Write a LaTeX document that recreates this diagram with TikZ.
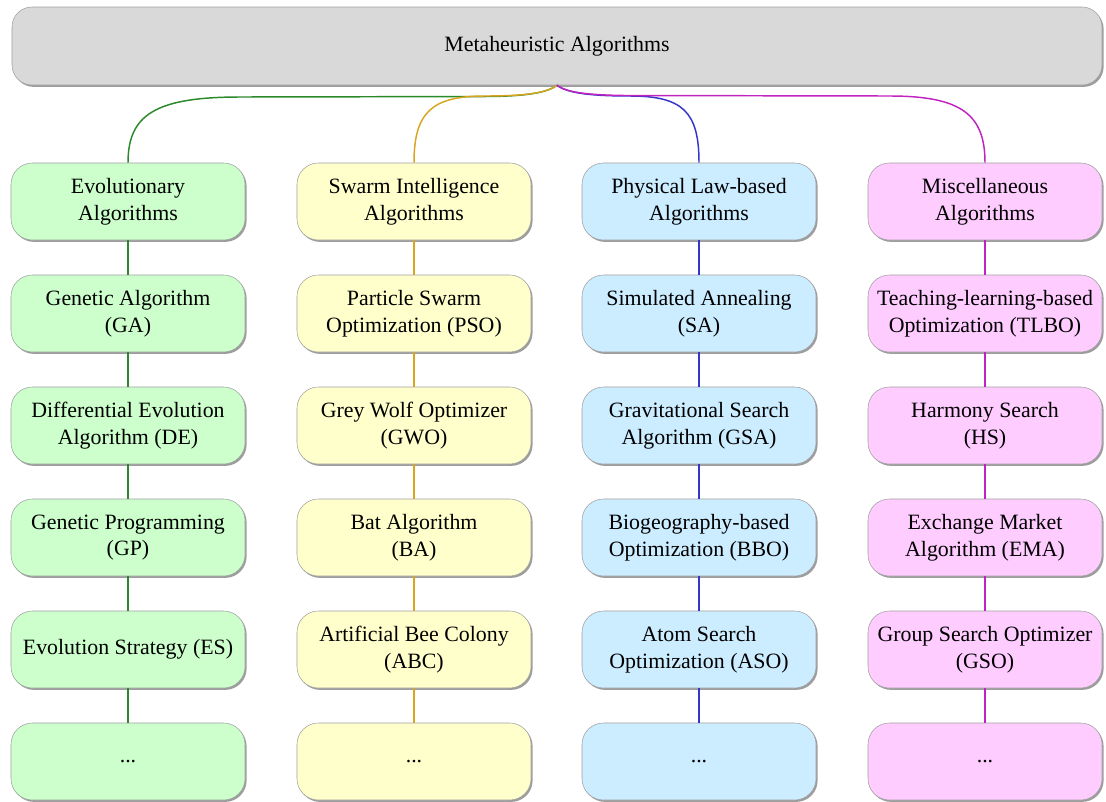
\documentclass[tikz,border=0pt]{standalone}
\usepackage{fontspec}
\setmainfont{Liberation Serif}
\usetikzlibrary{shadows}
\definecolor{gfill}{HTML}{CCFFCC}
\definecolor{yfill}{HTML}{FFFFCC}
\definecolor{bfill}{HTML}{CCECFF}
\definecolor{mfill}{HTML}{FFCCFF}
\definecolor{tfill}{HTML}{D9D9D9}
\definecolor{gline}{HTML}{2A8A2A}
\definecolor{yline}{HTML}{D9A520}
\definecolor{bline}{HTML}{3535CC}
\definecolor{mline}{HTML}{C024C0}
\begin{document}
\begin{tikzpicture}[x=0.75pt,y=-0.75pt,
  box/.style={rounded corners=16pt, draw=gray!75, line width=0.4pt,
    minimum width=175.5pt, minimum height=57.75pt, inner sep=0pt,
    align=center, font=\fontsize{16.4}{20}\selectfont,
    drop shadow={shadow xshift=1.2pt, shadow yshift=-1.4pt, fill=black!70, opacity=0.55}},
  ebox/.style={box, fill=gfill},
  sbox/.style={box, fill=yfill},
  pbox/.style={box, fill=bfill},
  mbox/.style={box, fill=mfill},
  topbox/.style={box, fill=tfill, minimum width=817.5pt, minimum height=58.5pt, rounded corners=15pt},
  conn/.style={line width=1.1pt}
]
\useasboundingbox (0,0) rectangle (1106,801);

\node[topbox] (top) at (557,46) {Metaheuristic Algorithms};

% column 1
\node[ebox] (e1) at (128,201.5) {Evolutionary\\Algorithms};
\node[ebox] (e2) at (128,313.5) {Genetic Algorithm\\(GA)};
\node[ebox] (e3) at (128,425.5) {Differential Evolution\\Algorithm (DE)};
\node[ebox] (e4) at (128,537.5) {Genetic Programming\\(GP)};
\node[ebox] (e5) at (128,649.5) {Evolution Strategy (ES)};
\node[ebox] (e6) at (128,761.5) {...};

% column 2
\node[sbox] (s1) at (414,201.5) {Swarm Intelligence\\Algorithms};
\node[sbox] (s2) at (414,313.5) {Particle Swarm\\Optimization (PSO)};
\node[sbox] (s3) at (414,425.5) {Grey Wolf Optimizer\\(GWO)};
\node[sbox] (s4) at (414,537.5) {Bat Algorithm\\(BA)};
\node[sbox] (s5) at (414,649.5) {Artificial Bee Colony\\(ABC)};
\node[sbox] (s6) at (414,761.5) {...};

% column 3
\node[pbox] (p1) at (699,201.5) {Physical Law-based\\Algorithms};
\node[pbox] (p2) at (699,313.5) {Simulated Annealing\\(SA)};
\node[pbox] (p3) at (699,425.5) {Gravitational Search\\Algorithm (GSA)};
\node[pbox] (p4) at (699,537.5) {Biogeography-based\\Optimization (BBO)};
\node[pbox] (p5) at (699,649.5) {Atom Search\\Optimization (ASO)};
\node[pbox] (p6) at (699,761.5) {...};

% column 4
\node[mbox] (m1) at (985,201.5) {Miscellaneous\\Algorithms};
\node[mbox] (m2) at (985,313.5) {Teaching-learning-based\\Optimization (TLBO)};
\node[mbox] (m3) at (985,425.5) {Harmony Search\\(HS)};
\node[mbox] (m4) at (985,537.5) {Exchange Market\\Algorithm (EMA)};
\node[mbox] (m5) at (985,649.5) {Group Search Optimizer\\(GSO)};
\node[mbox] (m6) at (985,761.5) {...};

% vertical connectors
\foreach \a/\b in {1/2,2/3,3/4,4/5,5/6}{
  \draw[conn, gline] (e\a.south) -- (e\b.north);
  \draw[conn, yline] (s\a.south) -- (s\b.north);
  \draw[conn, bline] (p\a.south) -- (p\b.north);
  \draw[conn, mline] (m\a.south) -- (m\b.north);
}

% curved connectors from the top box
\draw[conn, gline] (top.south) .. controls (548,92) and (530,96) .. (490,96.5)
  -- (240,97) .. controls (155,97) and (128,115) .. (e1.north);
\draw[conn, yline] (top.south) .. controls (547,93) and (525,96) .. (485,96)
  .. controls (432,96) and (414,112) .. (s1.north);
\draw[conn, bline] (top.south) .. controls (567,93) and (590,96) .. (630,96)
  .. controls (683,96) and (699,112) .. (p1.north);
\draw[conn, mline] (top.south) .. controls (566,92) and (585,95) .. (625,95.5)
  -- (890,96) .. controls (962,96) and (985,115) .. (m1.north);
\end{tikzpicture}
\end{document}
